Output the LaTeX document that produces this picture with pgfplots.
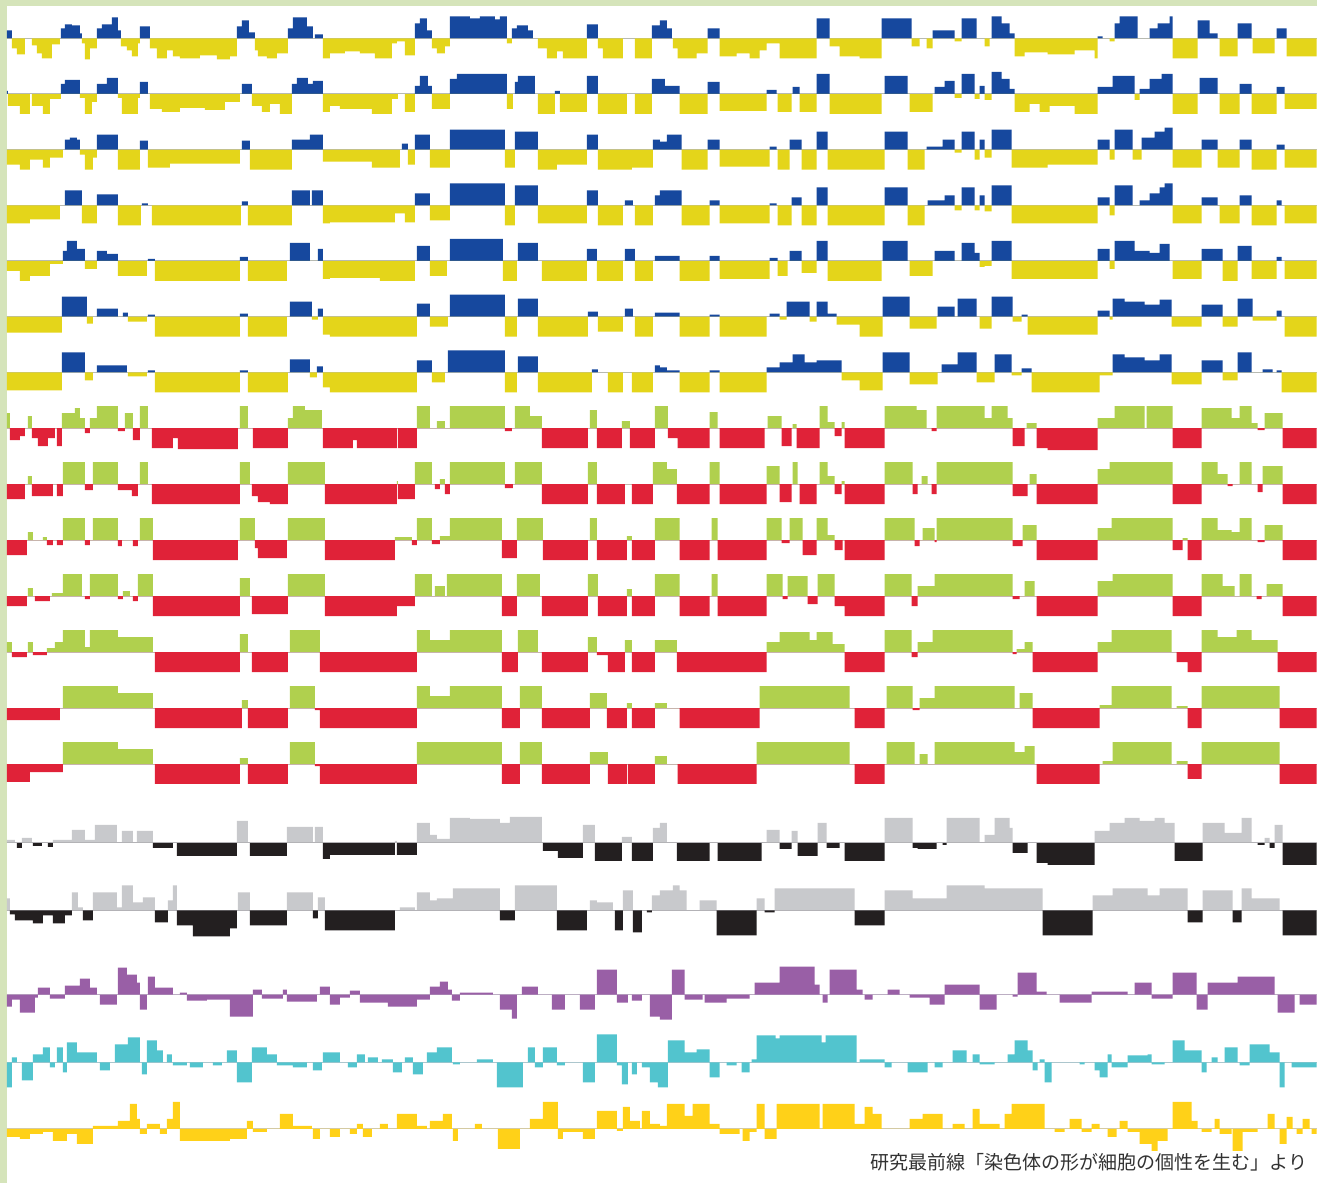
\documentclass[border=0pt]{standalone}
\usepackage{pgfplots}
\pgfplotsset{compat=1.18}
\usepackage{pgfplotstable}
\usepackage{fontspec}
\newfontfamily\cjk{Noto Sans CJK JP}
\definecolor{cblue}{RGB}{22,72,158}
\definecolor{cyel}{RGB}{228,213,26}
\definecolor{cgreen}{RGB}{176,208,78}
\definecolor{cred}{RGB}{224,34,56}
\definecolor{cgray}{RGB}{200,201,204}
\definecolor{cblack}{RGB}{35,31,32}
\definecolor{cpurple}{RGB}{153,95,166}
\definecolor{ccyan}{RGB}{82,196,206}
\definecolor{cgold}{RGB}{255,209,24}
\definecolor{cbase}{RGB}{200,200,205}
\definecolor{cborder}{RGB}{213,228,186}
\definecolor{ctext}{RGB}{50,50,50}

\pgfplotstableread[row sep=\\]{x v\\7 8\\12 -10\\17 -16\\25 0\\32 -7\\37 -15\\42 -20\\52 -6\\60 0\\61 10\\65 14\\72 13\\80 5\\82 -5\\85 -21\\90 -10\\97 10\\102 14\\112 21\\118 8\\121 -8\\127 -12\\132 -18\\138 -5\\140 12\\150 -10\\157 -20\\167 -12\\173 -18\\180 -20\\200 -17\\217 -21\\230 -18\\237 12\\242 18\\249 6\\255 -12\\258 -18\\267 -20\\277 -15\\288 10\\293 21\\307 12\\313 0\\315 4\\323 -20\\330 -15\\345 -13\\360 -15\\375 -20\\392 -5\\397 -3\\405 -17\\415 15\\420 20\\427 8\\432 -10\\437 -15\\445 -8\\450 22\\470 20\\480 22\\495 19\\500 22\\507 -5\\512 10\\517 13\\528 8\\533 0\\538 -10\\547 -20\\557 -13\\563 -20\\587 14\\598 -10\\603 -20\\623 0\\635 -20\\652 13\\660 18\\667 10\\672 0\\673 -10\\678 -20\\697 -15\\708 10\\720 -18\\737 -15\\750 -20\\760 -12\\767 -5\\780 -20\\817 20\\830 -8\\840 -18\\860 -20\\882 20\\912 -8\\920 0\\927 -10\\933 8\\955 -3\\962 20\\977 0\\985 -8\\990 0\\992 22\\1002 15\\1010 5\\1015 -18\\1025 -14\\1048 -16\\1075 -12\\1095 -20\\1098 2\\1103 0\\1110 -3\\1115 15\\1120 22\\1138 0\\1150 10\\1158 15\\1170 22\\1173 -20\\1198 18\\1210 5\\1218 0\\1220 -18\\1238 15\\1252 0\\1253 -15\\1275 0\\1277 10\\1287 -18\\1317 -18\\}\tAa

\pgfplotstableread[row sep=\\]{x v\\7 3\\8 -12\\20 -20\\30 0\\32 -12\\43 -20\\50 -5\\61 10\\65 14\\80 -4\\85 -20\\92 -8\\97 10\\107 16\\118 -4\\122 -20\\138 -4\\140 12\\148 0\\150 -15\\162 -18\\180 -14\\205 -16\\225 -8\\240 0\\242 10\\252 -12\\262 -18\\270 -10\\280 -20\\292 10\\297 16\\308 10\\313 13\\323 -18\\330 -12\\340 -15\\372 -20\\392 -5\\398 0\\405 -18\\415 8\\420 18\\428 8\\432 -15\\450 15\\457 20\\507 -15\\513 0\\515 12\\518 18\\535 0\\538 -20\\555 3\\560 -18\\587 18\\598 -20\\627 0\\635 -20\\652 15\\665 8\\680 -20\\708 12\\720 -17\\767 4\\777 0\\778 -18\\792 0\\793 7\\800 -18\\817 20\\830 -20\\882 0\\885 18\\908 0\\910 -18\\933 0\\935 7\\945 13\\955 -4\\962 20\\975 -5\\980 8\\985 -6\\992 22\\1002 15\\1010 5\\1015 -18\\1030 -10\\1040 -18\\1050 -12\\1075 -20\\1098 7\\1113 18\\1135 -6\\1140 5\\1150 15\\1162 20\\1173 -20\\1198 0\\1200 16\\1218 0\\1220 -20\\1240 10\\1252 -20\\1277 7\\1285 -15\\1317 -15\\}\tAb

\pgfplotstableread[row sep=\\]{x v\\7 -15\\20 -20\\30 -10\\43 -18\\50 -8\\63 0\\65 10\\70 12\\77 10\\80 -5\\85 -20\\93 -8\\97 15\\118 -20\\140 9\\148 -18\\170 -14\\240 0\\242 9\\250 -20\\292 10\\310 15\\323 -12\\330 -12\\372 -18\\400 0\\402 6\\408 -15\\415 15\\430 -18\\450 20\\505 -18\\515 18\\538 -20\\557 -15\\587 15\\598 -20\\632 -18\\653 10\\660 8\\667 15\\682 -20\\708 10\\720 -17\\770 3\\777 0\\778 -20\\790 10\\802 -20\\817 18\\828 -20\\885 18\\908 -20\\925 0\\927 3\\943 10\\955 -3\\962 18\\975 -10\\980 10\\985 -8\\992 20\\1012 -18\\1048 -15\\1098 10\\1110 -10\\1115 20\\1133 -10\\1142 12\\1155 18\\1165 22\\1173 -18\\1202 10\\1218 -18\\1240 10\\1252 -20\\1277 5\\1285 -18\\1317 -18\\}\tAc

\pgfplotstableread[row sep=\\]{x v\\7 -18\\30 -14\\60 0\\65 15\\82 -18\\97 11\\118 -20\\141 0\\142 2\\148 0\\152 -20\\241 0\\242 4\\248 -20\\292 15\\310 0\\312 15\\323 -18\\330 -17\\395 -8\\405 -17\\415 12\\430 -15\\450 22\\505 -20\\515 20\\538 -18\\587 15\\598 -20\\623 0\\625 5\\633 0\\635 -20\\653 0\\655 10\\660 15\\682 -20\\710 5\\720 -18\\770 2\\777 0\\778 -20\\792 8\\802 -20\\817 18\\828 -20\\885 18\\908 -20\\925 0\\928 5\\945 10\\955 -5\\962 18\\975 -5\\980 10\\985 -6\\992 20\\1012 -18\\1098 8\\1110 -10\\1115 20\\1133 0\\1140 5\\1150 12\\1160 18\\1165 22\\1173 -18\\1202 8\\1218 0\\1220 -18\\1240 10\\1252 -20\\1277 5\\1282 0\\1285 -18\\1317 -18\\}\tAd

\pgfplotstableread[row sep=\\]{x v\\7 -10\\20 -20\\30 -15\\50 -3\\63 10\\67 20\\77 12\\85 -8\\97 10\\107 7\\118 -15\\147 0\\148 2\\155 -20\\240 4\\248 -20\\287 0\\290 18\\310 0\\318 12\\323 -18\\330 -17\\380 -20\\415 0\\417 15\\430 -15\\447 0\\450 22\\503 -20\\517 0\\518 18\\538 0\\542 -20\\587 12\\597 -20\\623 0\\625 12\\635 -20\\653 0\\655 5\\680 -20\\710 5\\720 -18\\770 3\\778 -15\\788 0\\790 10\\802 -12\\817 20\\828 -20\\882 0\\883 20\\908 0\\910 -15\\933 0\\935 10\\955 0\\962 18\\975 8\\980 -6\\985 -5\\992 20\\1012 -18\\1098 12\\1110 -8\\1115 20\\1135 10\\1150 8\\1160 17\\1170 0\\1173 -18\\1202 12\\1223 -20\\1238 15\\1252 -18\\1277 4\\1282 0\\1285 -18\\1317 -18\\}\tAe

\pgfplotstableread[row sep=\\]{x v\\7 -16\\62 20\\87 -7\\93 0\\97 8\\118 0\\123 4\\128 -5\\147 0\\148 2\\155 -20\\240 3\\248 -20\\287 0\\290 15\\312 -3\\318 8\\323 -18\\330 -20\\417 13\\430 -10\\448 0\\450 22\\505 -20\\517 0\\518 18\\538 -20\\588 5\\598 -15\\623 0\\625 8\\633 0\\635 -20\\653 0\\655 4\\680 -20\\710 2\\720 -20\\767 0\\770 3\\780 -3\\787 15\\810 -5\\817 15\\828 3\\837 -8\\860 -20\\883 20\\910 -12\\937 0\\938 10\\955 0\\958 18\\977 0\\980 -12\\992 20\\1013 -5\\1022 2\\1028 -18\\1098 6\\1110 -3\\1113 18\\1125 15\\1145 12\\1160 17\\1172 -10\\1202 12\\1223 -10\\1238 18\\1253 -4\\1277 6\\1282 0\\1285 -20\\1317 -20\\}\tAf

\pgfplotstableread[row sep=\\]{x v\\7 -18\\62 20\\85 -8\\93 0\\97 7\\127 0\\128 -4\\147 0\\148 2\\155 -20\\240 2\\248 -20\\288 0\\290 13\\310 -5\\317 6\\323 -15\\330 -20\\417 12\\432 -10\\445 0\\448 22\\505 -20\\517 0\\518 16\\538 -20\\592 3\\598 0\\608 -20\\623 0\\632 -20\\653 0\\655 7\\660 5\\667 2\\680 -20\\710 2\\720 -20\\767 5\\780 10\\793 18\\805 10\\817 12\\842 -8\\860 -18\\883 20\\910 -12\\938 0\\942 8\\958 20\\977 -10\\995 18\\1012 -3\\1022 4\\1032 -20\\1100 -3\\1113 18\\1125 15\\1145 12\\1160 18\\1172 -12\\1202 12\\1223 -8\\1238 20\\1252 0\\1263 3\\1273 0\\1277 2\\1282 -20\\1317 -20\\}\tAg

\pgfplotstableread[row sep=\\]{x v\\7 15\\10 -12\\20 -8\\25 0\\28 12\\32 -10\\38 -18\\48 -10\\55 0\\57 -18\\62 15\\75 20\\80 10\\85 -5\\90 10\\97 22\\118 -3\\125 15\\133 -12\\140 22\\148 0\\152 -20\\173 -10\\178 -21\\238 0\\240 22\\248 0\\253 -20\\288 10\\293 22\\305 18\\322 0\\323 -20\\330 -20\\353 -12\\357 -20\\397 0\\398 -20\\417 22\\430 0\\437 7\\445 0\\450 22\\505 -3\\512 0\\515 22\\530 12\\542 -20\\588 0\\590 18\\597 -20\\622 7\\630 -20\\655 22\\668 -10\\678 -20\\710 16\\718 0\\720 -20\\765 0\\768 12\\782 -18\\792 0\\793 4\\797 -20\\820 22\\828 6\\835 -8\\842 6\\845 -20\\885 22\\917 18\\927 0\\932 -3\\937 22\\985 10\\992 22\\1008 10\\1013 -18\\1025 0\\1027 5\\1037 -20\\1048 -22\\1098 10\\1115 22\\1145 0\\1147 22\\1173 -20\\1202 20\\1232 10\\1240 22\\1252 5\\1258 -2\\1265 15\\1283 -20\\1317 -20\\}\tBa

\pgfplotstableread[row sep=\\]{x v\\7 -15\\25 0\\28 8\\32 -12\\53 0\\57 -12\\63 22\\85 -6\\93 22\\118 -6\\132 -12\\138 0\\140 22\\148 0\\152 -20\\240 22\\250 0\\252 -12\\258 -18\\270 -20\\288 22\\325 -20\\397 3\\398 -15\\415 22\\432 0\\435 -5\\440 5\\445 -10\\450 22\\505 -4\\513 0\\515 22\\542 -20\\588 22\\597 -20\\625 0\\632 -20\\653 22\\667 15\\677 -20\\710 22\\720 -20\\767 18\\780 -18\\792 0\\793 22\\798 0\\800 -20\\817 0\\820 22\\828 8\\835 -10\\842 3\\845 -20\\885 22\\913 -10\\918 0\\922 8\\928 0\\932 -10\\937 22\\1013 -12\\1028 0\\1030 10\\1037 -20\\1098 15\\1110 22\\1173 -20\\1202 22\\1218 10\\1228 -2\\1233 0\\1240 22\\1252 0\\1258 -8\\1263 18\\1283 -20\\1317 -20\\}\tBb

\pgfplotstableread[row sep=\\]{x v\\7 -15\\27 0\\28 8\\33 0\\43 3\\47 -5\\53 0\\57 -5\\63 22\\85 -5\\90 0\\93 22\\118 -6\\122 0\\133 -6\\138 0\\140 22\\153 -20\\238 0\\240 22\\255 -8\\258 -18\\287 0\\288 22\\325 -20\\395 3\\412 -5\\417 22\\432 -4\\440 4\\450 22\\502 -18\\517 22\\543 -20\\588 0\\590 22\\597 -20\\627 4\\632 -20\\655 22\\680 -20\\710 0\\712 22\\718 -20\\767 22\\782 -3\\790 22\\803 -15\\817 22\\828 5\\835 -10\\843 0\\845 -20\\885 22\\915 -6\\920 0\\923 12\\935 -2\\937 22\\1013 -6\\1023 15\\1037 -20\\1098 12\\1112 22\\1173 -10\\1183 2\\1188 -20\\1202 22\\1218 10\\1232 8\\1240 22\\1252 0\\1258 -2\\1265 15\\1283 -20\\1317 -20\\}\tBc

\pgfplotstableread[row sep=\\]{x v\\7 -10\\27 0\\28 8\\33 0\\35 -5\\50 0\\52 3\\63 22\\82 0\\85 -3\\90 22\\118 -3\\123 5\\130 0\\133 -5\\138 22\\153 -20\\240 18\\250 0\\252 -18\\288 22\\325 -20\\395 -20\\397 -10\\415 22\\432 0\\435 10\\445 0\\447 22\\502 -20\\517 22\\540 0\\542 -20\\588 22\\598 -20\\627 7\\632 -20\\655 22\\680 -20\\710 0\\712 22\\718 -20\\767 22\\783 -3\\788 20\\808 -8\\818 22\\835 -10\\845 -20\\885 22\\912 -10\\918 10\\935 22\\1013 -3\\1020 0\\1025 15\\1035 0\\1037 -20\\1098 15\\1113 22\\1173 -20\\1202 22\\1223 10\\1235 0\\1240 22\\1252 0\\1257 -3\\1262 0\\1267 12\\1283 -20\\1317 -20\\}\tBd

\pgfplotstableread[row sep=\\]{x v\\7 10\\12 -5\\27 0\\28 10\\33 -3\\47 4\\55 10\\63 22\\85 5\\90 22\\118 15\\153 0\\155 -20\\240 18\\248 0\\252 -20\\288 0\\290 22\\320 -20\\417 22\\430 12\\450 22\\502 -20\\518 22\\538 0\\542 -20\\588 15\\597 -3\\608 -20\\625 12\\632 -20\\655 12\\677 -20\\767 10\\780 20\\810 12\\817 20\\833 8\\845 -20\\885 22\\912 -5\\918 10\\933 22\\1013 -2\\1017 3\\1025 10\\1033 -20\\1098 10\\1112 22\\1172 0\\1177 -10\\1188 -20\\1202 22\\1218 15\\1237 22\\1252 12\\1278 -20\\1317 -20\\}\tBe

\pgfplotstableread[row sep=\\]{x v\\7 -12\\60 0\\63 22\\118 15\\153 0\\155 -20\\242 8\\248 -20\\288 0\\290 22\\315 -2\\320 -20\\417 22\\430 12\\450 22\\502 -20\\520 22\\542 -20\\590 15\\607 -20\\627 5\\632 -20\\655 5\\667 0\\680 -20\\760 22\\850 0\\855 -20\\885 0\\887 22\\913 -2\\920 10\\935 22\\1015 0\\1020 15\\1033 -20\\1100 3\\1112 22\\1172 0\\1177 2\\1188 -20\\1202 22\\1280 -20\\1317 -20\\}\tBf

\pgfplotstableread[row sep=\\]{x v\\7 -18\\30 -8\\63 22\\118 15\\153 0\\155 -20\\240 6\\248 -20\\288 0\\290 22\\315 -2\\320 -20\\417 22\\502 -20\\520 22\\542 -20\\590 12\\608 -20\\627 0\\628 -20\\655 8\\667 0\\678 -20\\757 22\\850 0\\855 -20\\885 0\\887 22\\915 0\\920 10\\928 0\\935 22\\1015 12\\1025 18\\1035 0\\1037 -20\\1100 0\\1103 3\\1113 22\\1172 0\\1177 3\\1188 -15\\1202 22\\1280 -20\\1317 -20\\}\tBg

\pgfplotstableread[row sep=\\]{x v\\7 3\\15 0\\17 -5\\22 5\\32 0\\33 -3\\42 0\\48 -4\\53 3\\72 13\\85 3\\95 18\\117 0\\122 12\\133 0\\137 12\\153 -5\\173 0\\177 -13\\237 22\\248 0\\250 -13\\287 16\\313 0\\315 16\\323 -16\\330 -12\\395 2\\397 -12\\417 20\\430 8\\437 4\\450 25\\470 24\\500 20\\510 26\\542 0\\543 -8\\558 -15\\583 18\\595 -18\\622 6\\632 -18\\653 15\\660 20\\667 0\\677 -18\\710 0\\718 -18\\762 0\\767 13\\780 -6\\792 12\\798 -13\\818 20\\827 -5\\840 0\\845 -18\\885 25\\913 -5\\918 -6\\937 0\\943 -2\\947 25\\980 0\\985 8\\995 25\\1010 15\\1013 -10\\1028 0\\1037 -20\\1048 -22\\1095 12\\1110 20\\1125 25\\1140 22\\1155 25\\1165 20\\1175 -18\\1203 20\\1225 10\\1242 25\\1252 0\\1258 -2\\1265 5\\1270 -5\\1275 18\\1283 -22\\1317 -22\\}\tCa

\pgfplotstableread[row sep=\\]{x v\\7 12\\10 -4\\15 -10\\33 -13\\43 -5\\53 -13\\65 -5\\72 18\\78 3\\83 -10\\93 18\\117 3\\122 25\\133 8\\143 13\\155 -12\\168 10\\173 25\\177 -15\\193 -26\\230 -18\\237 0\\238 18\\250 -15\\287 18\\313 -8\\318 13\\325 -20\\395 0\\400 3\\415 0\\417 18\\430 10\\437 12\\453 22\\500 -10\\515 25\\557 -20\\587 0\\590 10\\597 8\\613 0\\615 -20\\623 20\\633 -22\\642 0\\647 -2\\652 15\\660 20\\673 25\\680 20\\687 0\\700 10\\717 -25\\757 12\\765 -2\\775 22\\855 -15\\885 20\\913 12\\947 25\\985 22\\1043 -25\\1093 15\\1113 22\\1148 15\\1160 22\\1188 -12\\1203 20\\1233 -12\\1242 22\\1252 12\\1280 0\\1283 -25\\1317 -25\\}\tCb

\pgfplotstableread[row sep=\\]{x v\\7 -12\\12 -5\\20 -18\\35 -3\\38 7\\50 -4\\65 9\\80 16\\90 7\\97 0\\100 -10\\117 0\\118 27\\127 20\\137 12\\140 -15\\147 0\\148 18\\155 7\\173 0\\180 2\\187 -6\\207 -5\\230 -22\\253 5\\262 -4\\283 5\\287 -7\\317 0\\320 8\\330 -10\\340 -3\\350 4\\360 -8\\388 -12\\417 -5\\430 8\\440 13\\448 5\\452 -6\\460 2\\493 0\\500 -15\\512 -24\\517 0\\522 8\\538 0\\552 -15\\565 0\\580 -15\\595 0\\597 25\\617 -8\\628 0\\632 -6\\642 0\\650 -22\\660 -25\\672 25\\685 -5\\703 0\\705 -8\\727 -4\\750 0\\755 12\\780 28\\815 10\\820 0\\823 -8\\828 0\\830 25\\857 5\\863 0\\865 -5\\873 0\\888 5\\900 0\\910 -3\\930 -10\\945 10\\980 -15\\997 0\\1013 -2\\1018 22\\1037 3\\1047 0\\1060 -8\\1092 3\\1128 0\\1135 12\\1152 -4\\1173 22\\1197 -15\\1208 12\\1238 18\\1275 0\\1278 -18\\1295 0\\1300 -10\\1317 -10\\}\tDa

\pgfplotstableread[row sep=\\]{x v\\7 -25\\12 5\\17 0\\22 -18\\33 8\\43 15\\50 -5\\55 0\\57 15\\63 -10\\67 20\\77 10\\97 0\\100 -8\\110 0\\115 18\\128 25\\140 0\\142 -12\\147 22\\157 12\\163 0\\167 8\\172 0\\173 -3\\187 0\\190 -5\\203 0\\213 -3\\222 0\\227 12\\237 -20\\252 15\\267 8\\277 -3\\293 -5\\307 0\\313 -8\\322 0\\323 10\\340 0\\348 -5\\357 8\\365 0\\368 5\\378 0\\382 3\\393 -10\\402 0\\405 5\\413 -12\\423 0\\427 10\\437 15\\452 0\\453 -2\\460 0\\477 3\\493 0\\497 -25\\523 0\\528 15\\535 -5\\543 15\\557 -3\\565 0\\583 -20\\595 0\\597 28\\617 -3\\622 -22\\628 0\\632 -12\\637 0\\642 -5\\650 -20\\658 -25\\668 22\\685 10\\697 13\\710 -15\\720 0\\727 -3\\737 0\\742 -10\\750 0\\752 3\\757 27\\776 24\\780 27\\822 20\\826 27\\857 0\\860 3\\885 -5\\892 0\\908 -10\\928 0\\935 -5\\943 0\\953 12\\967 0\\973 8\\980 -2\\995 0\\1008 8\\1015 22\\1028 12\\1033 -8\\1038 0\\1040 3\\1045 -20\\1052 0\\1080 -2\\1085 0\\1095 -8\\1100 -15\\1108 8\\1112 -5\\1128 7\\1148 8\\1152 -2\\1165 0\\1173 22\\1185 12\\1202 -10\\1207 0\\1212 5\\1218 0\\1225 15\\1238 0\\1240 -3\\1250 18\\1270 10\\1280 -25\\1285 0\\1292 -5\\1317 -5\\}\tDb

\pgfplotstableread[row sep=\\]{x v\\7 -8\\20 -10\\30 -5\\43 -3\\53 -12\\67 -5\\77 -15\\93 3\\118 8\\130 25\\137 10\\140 -5\\147 5\\160 -5\\167 10\\173 27\\180 -12\\230 -10\\247 8\\253 -3\\267 0\\280 15\\293 3\\312 0\\313 -10\\320 0\\330 -8\\340 0\\350 -5\\357 5\\363 -8\\372 0\\380 5\\388 0\\397 15\\417 3\\427 0\\430 8\\443 15\\452 0\\453 -12\\458 0\\475 5\\482 0\\498 -20\\520 0\\530 10\\543 27\\558 -10\\563 -3\\583 -10\\595 0\\597 18\\617 -2\\623 22\\630 8\\640 0\\642 18\\650 5\\660 3\\667 25\\685 13\\693 25\\710 5\\720 -5\\740 0\\743 -12\\750 -3\\757 25\\765 -10\\777 25\\820 0\\823 25\\855 5\\865 22\\873 15\\882 0\\910 10\\923 15\\943 0\\953 5\\965 0\\973 20\\980 5\\1000 0\\1005 15\\1012 25\\1045 0\\1055 -3\\1065 0\\1070 10\\1082 -3\\1092 5\\1100 0\\1108 -8\\1117 0\\1120 8\\1128 -3\\1140 -15\\1152 -22\\1158 -12\\1168 0\\1173 27\\1192 8\\1198 0\\1202 -3\\1212 0\\1215 10\\1220 -5\\1232 0\\1233 -22\\1243 -3\\1258 0\\1268 15\\1275 0\\1280 -15\\1287 12\\1293 0\\1297 -5\\1303 10\\1310 0\\1312 -5\\1317 -5\\}\tDc

\newcommand{\base}[1]{\addplot[draw=cbase,line width=1bp,mark=none] coordinates {(7,#1) (1317,#1)};}
\newcommand{\track}[4]{%
\addplot[draw=none,fill=#3,const plot,mark=none] table[x index=0,y expr={#2+max(\thisrowno{1},0)}]{#1} -- (axis cs:1317,#2) -- (axis cs:7,#2) -- cycle;
\addplot[draw=none,fill=#4,const plot,mark=none] table[x index=0,y expr={#2+min(\thisrowno{1},0)}]{#1} -- (axis cs:1317,#2) -- (axis cs:7,#2) -- cycle;}

\begin{document}
\begin{tikzpicture}
\begin{axis}[x=1bp,y=1bp,xmin=0,xmax=1317,ymin=0,ymax=1183,hide axis,scale only axis,clip=false,at={(0,0)},anchor=origin]
\fill[white] (axis cs:0,0) rectangle (axis cs:1317,1183);
\fill[cborder] (axis cs:0,0) rectangle (axis cs:7,1183);
\fill[cborder] (axis cs:0,1177) rectangle (axis cs:1317,1183);
\base{1144.7}\base{1089}\base{1033.3}\base{977.6}\base{921.9}\base{866.2}\base{810.5}
\base{754.7}\base{698.7}\base{642.7}\base{586.7}\base{530.7}\base{474.7}\base{418.7}
\base{339.7}\base{272.3}\base{188}\base{120.3}\base{53.7}
\track{\tAa}{1144.7}{cblue}{cyel}
\track{\tAb}{1089}{cblue}{cyel}
\track{\tAc}{1033.3}{cblue}{cyel}
\track{\tAd}{977.6}{cblue}{cyel}
\track{\tAe}{921.9}{cblue}{cyel}
\track{\tAf}{866.2}{cblue}{cyel}
\track{\tAg}{810.5}{cblue}{cyel}
\track{\tBa}{754.7}{cgreen}{cred}
\track{\tBb}{698.7}{cgreen}{cred}
\track{\tBc}{642.7}{cgreen}{cred}
\track{\tBd}{586.7}{cgreen}{cred}
\track{\tBe}{530.7}{cgreen}{cred}
\track{\tBf}{474.7}{cgreen}{cred}
\track{\tBg}{418.7}{cgreen}{cred}
\track{\tCa}{339.7}{cgray}{cblack}
\track{\tCb}{272.3}{cgray}{cblack}
\track{\tDa}{188}{cpurple}{cpurple}
\track{\tDb}{120.3}{ccyan}{ccyan}
\track{\tDc}{53.7}{cgold}{cgold}
\node[anchor=base east,inner sep=0pt,font=\cjk\fontsize{19.1}{21}\selectfont,text=ctext] at (axis cs:1308,13) {研究最前線「染色体の形が細胞の個性を生む」より};
\end{axis}
\end{tikzpicture}
\end{document}
